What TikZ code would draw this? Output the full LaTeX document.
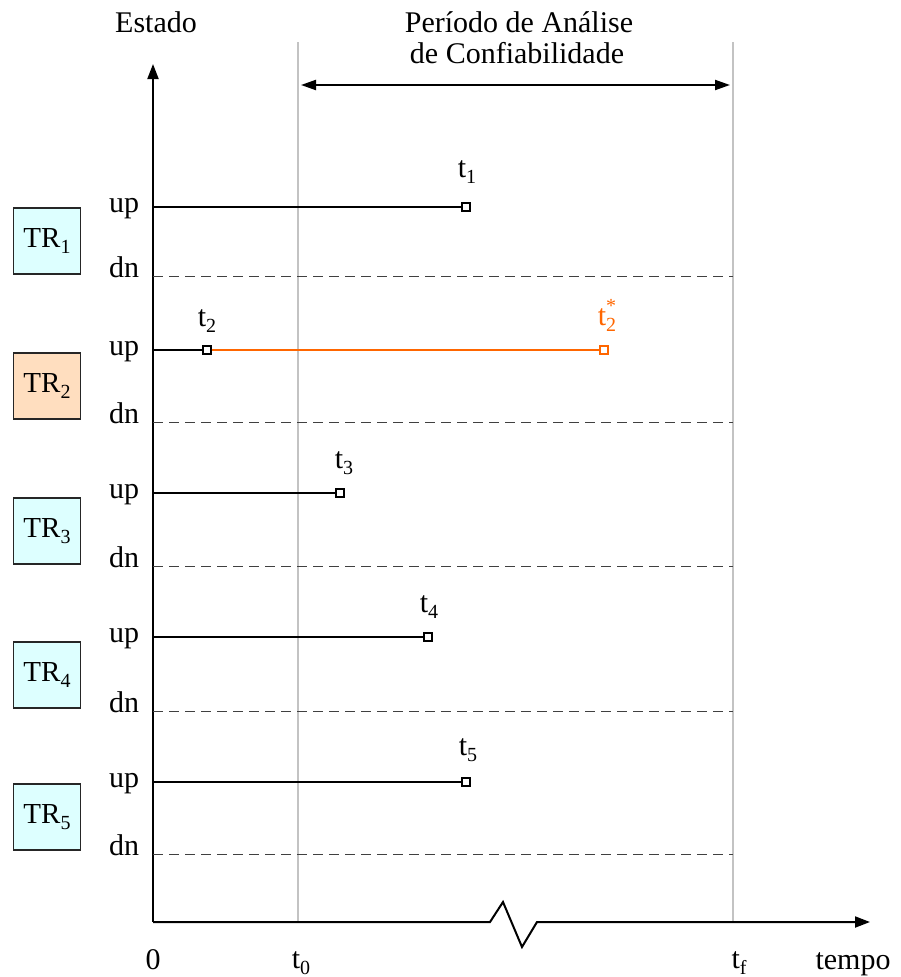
\documentclass[tikz,border=0pt]{standalone}
\usepackage{fontspec}
\setmainfont{Liberation Serif}
\usetikzlibrary{arrows.meta}
\definecolor{orng}{RGB}{255,102,0}
\definecolor{cyanbox}{RGB}{221,255,255}
\definecolor{peachbox}{RGB}{255,222,191}
\definecolor{gridgray}{RGB}{195,195,195}
\newcommand{\sbs}[1]{\raisebox{-6pt}{\fontsize{20}{20}\selectfont #1}}
\newcommand{\sps}[1]{\raisebox{13pt}{\fontsize{20}{20}\selectfont #1}}
\tikzset{
  lbl/.style={font=\fontsize{30}{31}\selectfont, inner sep=0pt, anchor=base},
  trbox/.style={draw=black!85, line width=1.3pt, minimum width=67pt, minimum height=66pt, inner sep=0pt, font=\fontsize{29}{30}\selectfont},
  sq/.style={draw, fill=white, line width=1.4pt, minimum size=8pt, inner sep=0pt},
  upline/.style={line width=1.6pt},
  dnline/.style={line width=1pt, dash pattern=on 10pt off 6pt, black!75},
  axis/.style={line width=2pt},
  vgrid/.style={line width=1.5pt, gridgray},
}
\begin{document}
\begin{tikzpicture}[x=1pt,y=-1pt]
\useasboundingbox (0,0) rectangle (900,977);
% vertical reference lines
\coordinate (t0top) at (298,42);
\coordinate (t0bot) at (298,922);
\coordinate (tftop) at (733,42);
\coordinate (tfbot) at (733,922);
\draw[vgrid] (t0top) -- (t0bot);
\draw[vgrid] (tftop) -- (tfbot);
% axes
\coordinate (O) at (153,922);
\coordinate (ytop) at (153,64);
\coordinate (xend) at (870,922);
\draw[axis, -{Triangle[length=15pt,width=11pt]}] (O) -- (ytop);
\draw[axis, -{Triangle[length=15pt,width=11pt]}] (O) -- (490,922) -- (503,902) -- (522,947) -- (537,922) -- (xend);
% period arrow
\coordinate (pa) at (301,85);
\coordinate (pb) at (730,85);
\draw[line width=2pt, {Triangle[length=15pt,width=10pt]}-{Triangle[length=15pt,width=10pt]}] (pa) -- (pb);
% titles
\node[lbl] (estado) at (156,32) {Estado};
\node[lbl] (periodo1) at (519,32) {Período de Análise};
\node[lbl] (periodo2) at (517,63) {de Confiabilidade};
% bottom labels
\node[lbl] (l0) at (153,969) {0};
\node[lbl] (lt0) at (301,968) {t\sbs{0}};
\node[lbl] (ltf) at (739,968) {t\sbs{f}};
\node[lbl] (ltempo) at (853,969) {tempo};
% rows
\foreach \i/\u/\d in {1/207/276, 2/350/422, 3/493/566, 4/637/711, 5/782/854}{
  \node[lbl] (up\i) at (124,\u+5) {up};
  \node[lbl] (dn\i) at (124,\d+1) {dn};
  \coordinate (ua\i) at (153,\u);
  \coordinate (da\i) at (153,\d);
  \coordinate (de\i) at (733,\d);
  \draw[dnline] (da\i) -- (de\i);
}
\node[trbox, fill=cyanbox] (tr1) at (47,241) {TR\sbs{1}};
\node[trbox, fill=peachbox] (tr2) at (47,386) {TR\sbs{2}};
\node[trbox, fill=cyanbox] (tr3) at (47,531) {TR\sbs{3}};
\node[trbox, fill=cyanbox] (tr4) at (47,675) {TR\sbs{4}};
\node[trbox, fill=cyanbox] (tr5) at (47,817) {TR\sbs{5}};
% failure times
\node[sq] (f1) at (466,207) {};
\draw[upline] (ua1) -- (f1);
\node[lbl] (t1) at (467,177) {t\sbs{1}};

\node[sq] (f2) at (207,350) {};
\node[sq, draw=orng] (f2s) at (604,350) {};
\draw[upline] (ua2) -- (f2);
\draw[upline, orng] (f2) -- (f2s);
\node[lbl] (t2) at (207,326) {t\sbs{2}};
\node[lbl, text=orng] (t2s) at (607,325) {t\rlap{\sps{*}}\sbs{2}};

\node[sq] (f3) at (340,493) {};
\draw[upline] (ua3) -- (f3);
\node[lbl] (t3) at (344,468) {t\sbs{3}};

\node[sq] (f4) at (428,637) {};
\draw[upline] (ua4) -- (f4);
\node[lbl] (t4) at (429,612) {t\sbs{4}};

\node[sq] (f5) at (466,782) {};
\draw[upline] (ua5) -- (f5);
\node[lbl] (t5) at (468,755) {t\sbs{5}};
\end{tikzpicture}
\end{document}
